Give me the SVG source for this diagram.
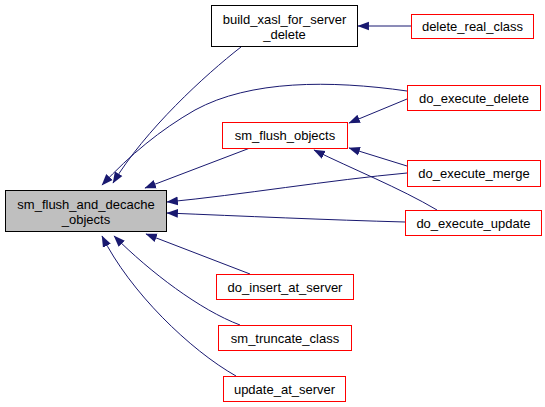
<svg xmlns="http://www.w3.org/2000/svg" width="545" height="407" viewBox="0 0 545 407">
<style>
.n rect{fill:#fff;stroke:#ff0000;stroke-width:1}
.n.b rect{stroke:#000}
.n.m rect{fill:#bfbfbf;stroke:#000}
text{font-family:"Liberation Sans",Arial,sans-serif;font-size:13px;fill:#000;text-anchor:middle}
.e path{fill:none;stroke:#191970;stroke-width:1}
</style>
<rect width="545" height="407" fill="#fff"/>
<defs>
<marker id="a" markerUnits="userSpaceOnUse" markerWidth="12" markerHeight="10" refX="10" refY="4" orient="auto" viewBox="0 0 11 8">
<polygon points="0,0 10.5,4 0,8" fill="#191970"/>
</marker>
</defs>
<g class="e" id="edges">
<path d="M241,47 C205,75 145,130 113,183" marker-end="url(#a)"/>
<path d="M407,91 C330,80 250,80 195,110 C160,130 130,155 102,185" marker-end="url(#a)"/>
<path d="M250,148 L145,188" marker-end="url(#a)"/>
<path d="M407,173 C330,180 240,195 167,202" marker-end="url(#a)"/>
<path d="M405,222 C330,220 240,216 167,213" marker-end="url(#a)"/>
<path d="M407,99 L349,123" marker-end="url(#a)"/>
<path d="M407,166 L349,148" marker-end="url(#a)"/>
<path d="M437,210 C400,188 350,168 314,150" marker-end="url(#a)"/>
<path d="M411,26 L358,26" marker-end="url(#a)"/>
<path d="M250,274 L146,234" marker-end="url(#a)"/>
<path d="M240,325 C200,310 150,272 114,236" marker-end="url(#a)"/>
<path d="M236,376 C190,350 130,292 102,236" marker-end="url(#a)"/>
</g>
<g class="n m" id="sm_flush_and_decache_objects"><rect x="5.5" y="190.5" width="161" height="41"/><text x="86" y="208.5">sm_flush_and_decache</text><text x="86" y="223.5">_objects</text></g>
<g class="n b" id="build_xasl_for_server_delete"><rect x="211.5" y="5.5" width="146" height="41"/><text x="284.5" y="23.5">build_xasl_for_server</text><text x="284.5" y="38.5">_delete</text></g>
<g class="n" id="delete_real_class"><rect x="411.5" y="14.5" width="122" height="24"/><text x="472.5" y="31">delete_real_class</text></g>
<g class="n" id="do_execute_delete"><rect x="407.5" y="85.5" width="133" height="25"/><text x="474" y="102.5">do_execute_delete</text></g>
<g class="n" id="sm_flush_objects"><rect x="222.5" y="122.5" width="125" height="26"/><text x="285" y="140">sm_flush_objects</text></g>
<g class="n" id="do_execute_merge"><rect x="407.5" y="160.5" width="133" height="26"/><text x="474" y="178">do_execute_merge</text></g>
<g class="n" id="do_execute_update"><rect x="405.5" y="210.5" width="136" height="25"/><text x="473.5" y="227.5">do_execute_update</text></g>
<g class="n" id="do_insert_at_server"><rect x="216.5" y="274.5" width="137" height="25"/><text x="285" y="291.5">do_insert_at_server</text></g>
<g class="n" id="sm_truncate_class"><rect x="218.5" y="325.5" width="133" height="25"/><text x="285" y="342.5">sm_truncate_class</text></g>
<g class="n" id="update_at_server"><rect x="223.5" y="376.5" width="122" height="25"/><text x="284.5" y="393.5">update_at_server</text></g>
</svg>
